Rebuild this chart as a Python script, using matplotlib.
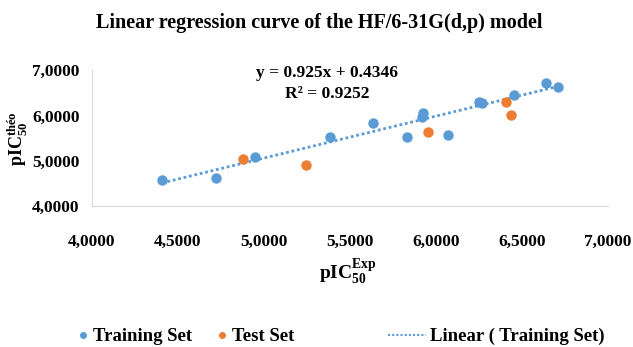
import numpy as np
import matplotlib.pyplot as plt
from matplotlib.ticker import FuncFormatter
from matplotlib.lines import Line2D

plt.rcParams['font.family'] = 'Liberation Serif'
plt.rcParams['font.weight'] = 'bold'
plt.rcParams['mathtext.fontset'] = 'custom'
plt.rcParams['mathtext.rm'] = 'Liberation Serif:bold'
plt.rcParams['mathtext.it'] = 'Liberation Serif:bold'
plt.rcParams['mathtext.bf'] = 'Liberation Serif:bold'

# training set (pIC50 exp, pIC50 theo)
train_exp = [4.407, 4.721, 4.948, 5.384, 5.634, 5.830, 5.919, 5.925, 6.070, 6.250, 6.270, 6.453, 6.640, 6.710]
train_theo = [4.574, 4.618, 5.080, 5.520, 5.830, 5.520, 5.960, 6.050, 5.570, 6.300, 6.270, 6.450, 6.710, 6.630]

# test set
test_exp = [4.878, 5.244, 5.953, 6.407, 6.436]
test_theo = [5.040, 4.905, 5.630, 6.300, 6.010]

# trend line from the chart label
slope = 0.925
intercept = 0.4346
r2 = 0.9252

x_ticks = [4.0, 4.5, 5.0, 5.5, 6.0, 6.5, 7.0]
y_ticks = [4.0, 5.0, 6.0, 7.0]

blue = '#5B9BD5'
orange = '#ED7D31'

fig = plt.figure(figsize=(6.33, 3.47), dpi=100)
ax = fig.add_axes([0.1453, 0.406, 0.8152, 0.392])

ax.scatter(train_exp, train_theo, s=42, color=blue, zorder=3)
ax.scatter(test_exp, test_theo, s=42, color=orange, zorder=3)

xl = np.array([min(train_exp), max(train_exp)])
ax.plot(xl, slope * xl + intercept, color=blue, linestyle=(0, (1, 1)), linewidth=2, zorder=2)

ax.set_xlim(4, 7)
ax.set_ylim(4, 7)
ax.set_xticks(x_ticks)
ax.set_yticks(y_ticks)
fmt = FuncFormatter(lambda v, p: ('%.4f' % v).replace('.', ','))
ax.xaxis.set_major_formatter(fmt)
ax.yaxis.set_major_formatter(fmt)
ax.tick_params(length=0, labelsize=12.5)
ax.tick_params(axis='x', pad=20)
ax.tick_params(axis='y', pad=9)

for s in ['top', 'right']:
    ax.spines[s].set_visible(False)
for s in ['left', 'bottom']:
    ax.spines[s].set_color('#D9D9D9')

fig.text(0.505, 0.935, 'Linear regression curve of the HF/6-31G(d,p) model',
         ha='center', va='center', fontsize=14.5, fontweight='bold')
fig.text(0.517, 0.79, 'y = %.3fx + %.4f' % (slope, intercept), ha='center', va='center', fontsize=12.5)
fig.text(0.517, 0.73, 'R² = %.4f' % r2, ha='center', va='center', fontsize=12.5)

fig.text(0.55, 0.215, r'$\mathrm{pIC_{50}^{Exp}}$', ha='center', va='center', fontsize=14)
fig.text(0.028, 0.6, r'$\mathrm{pIC_{50}^{théo}}$', ha='center', va='center', fontsize=13, rotation=90)

# legend entries placed separately like the original
entries = [
    (Line2D([], [], marker='o', linestyle='none', color=blue, markersize=4), 'Training Set', 0.122, 0.6),
    (Line2D([], [], marker='o', linestyle='none', color=orange, markersize=4), 'Test Set', 0.342, 0.6),
    (Line2D([], [], color=blue, linestyle=(0, (1, 1)), linewidth=1.5), 'Linear ( Training Set)', 0.613, 2.0),
]
for h, lab, xpos, hl in entries:
    fig.legend([h], [lab], loc='center left', bbox_to_anchor=(xpos, 0.03), frameon=False,
               fontsize=13.5, handlelength=hl, handletextpad=0.25, borderaxespad=0, borderpad=0)

fig.savefig('out.png', dpi=100)
